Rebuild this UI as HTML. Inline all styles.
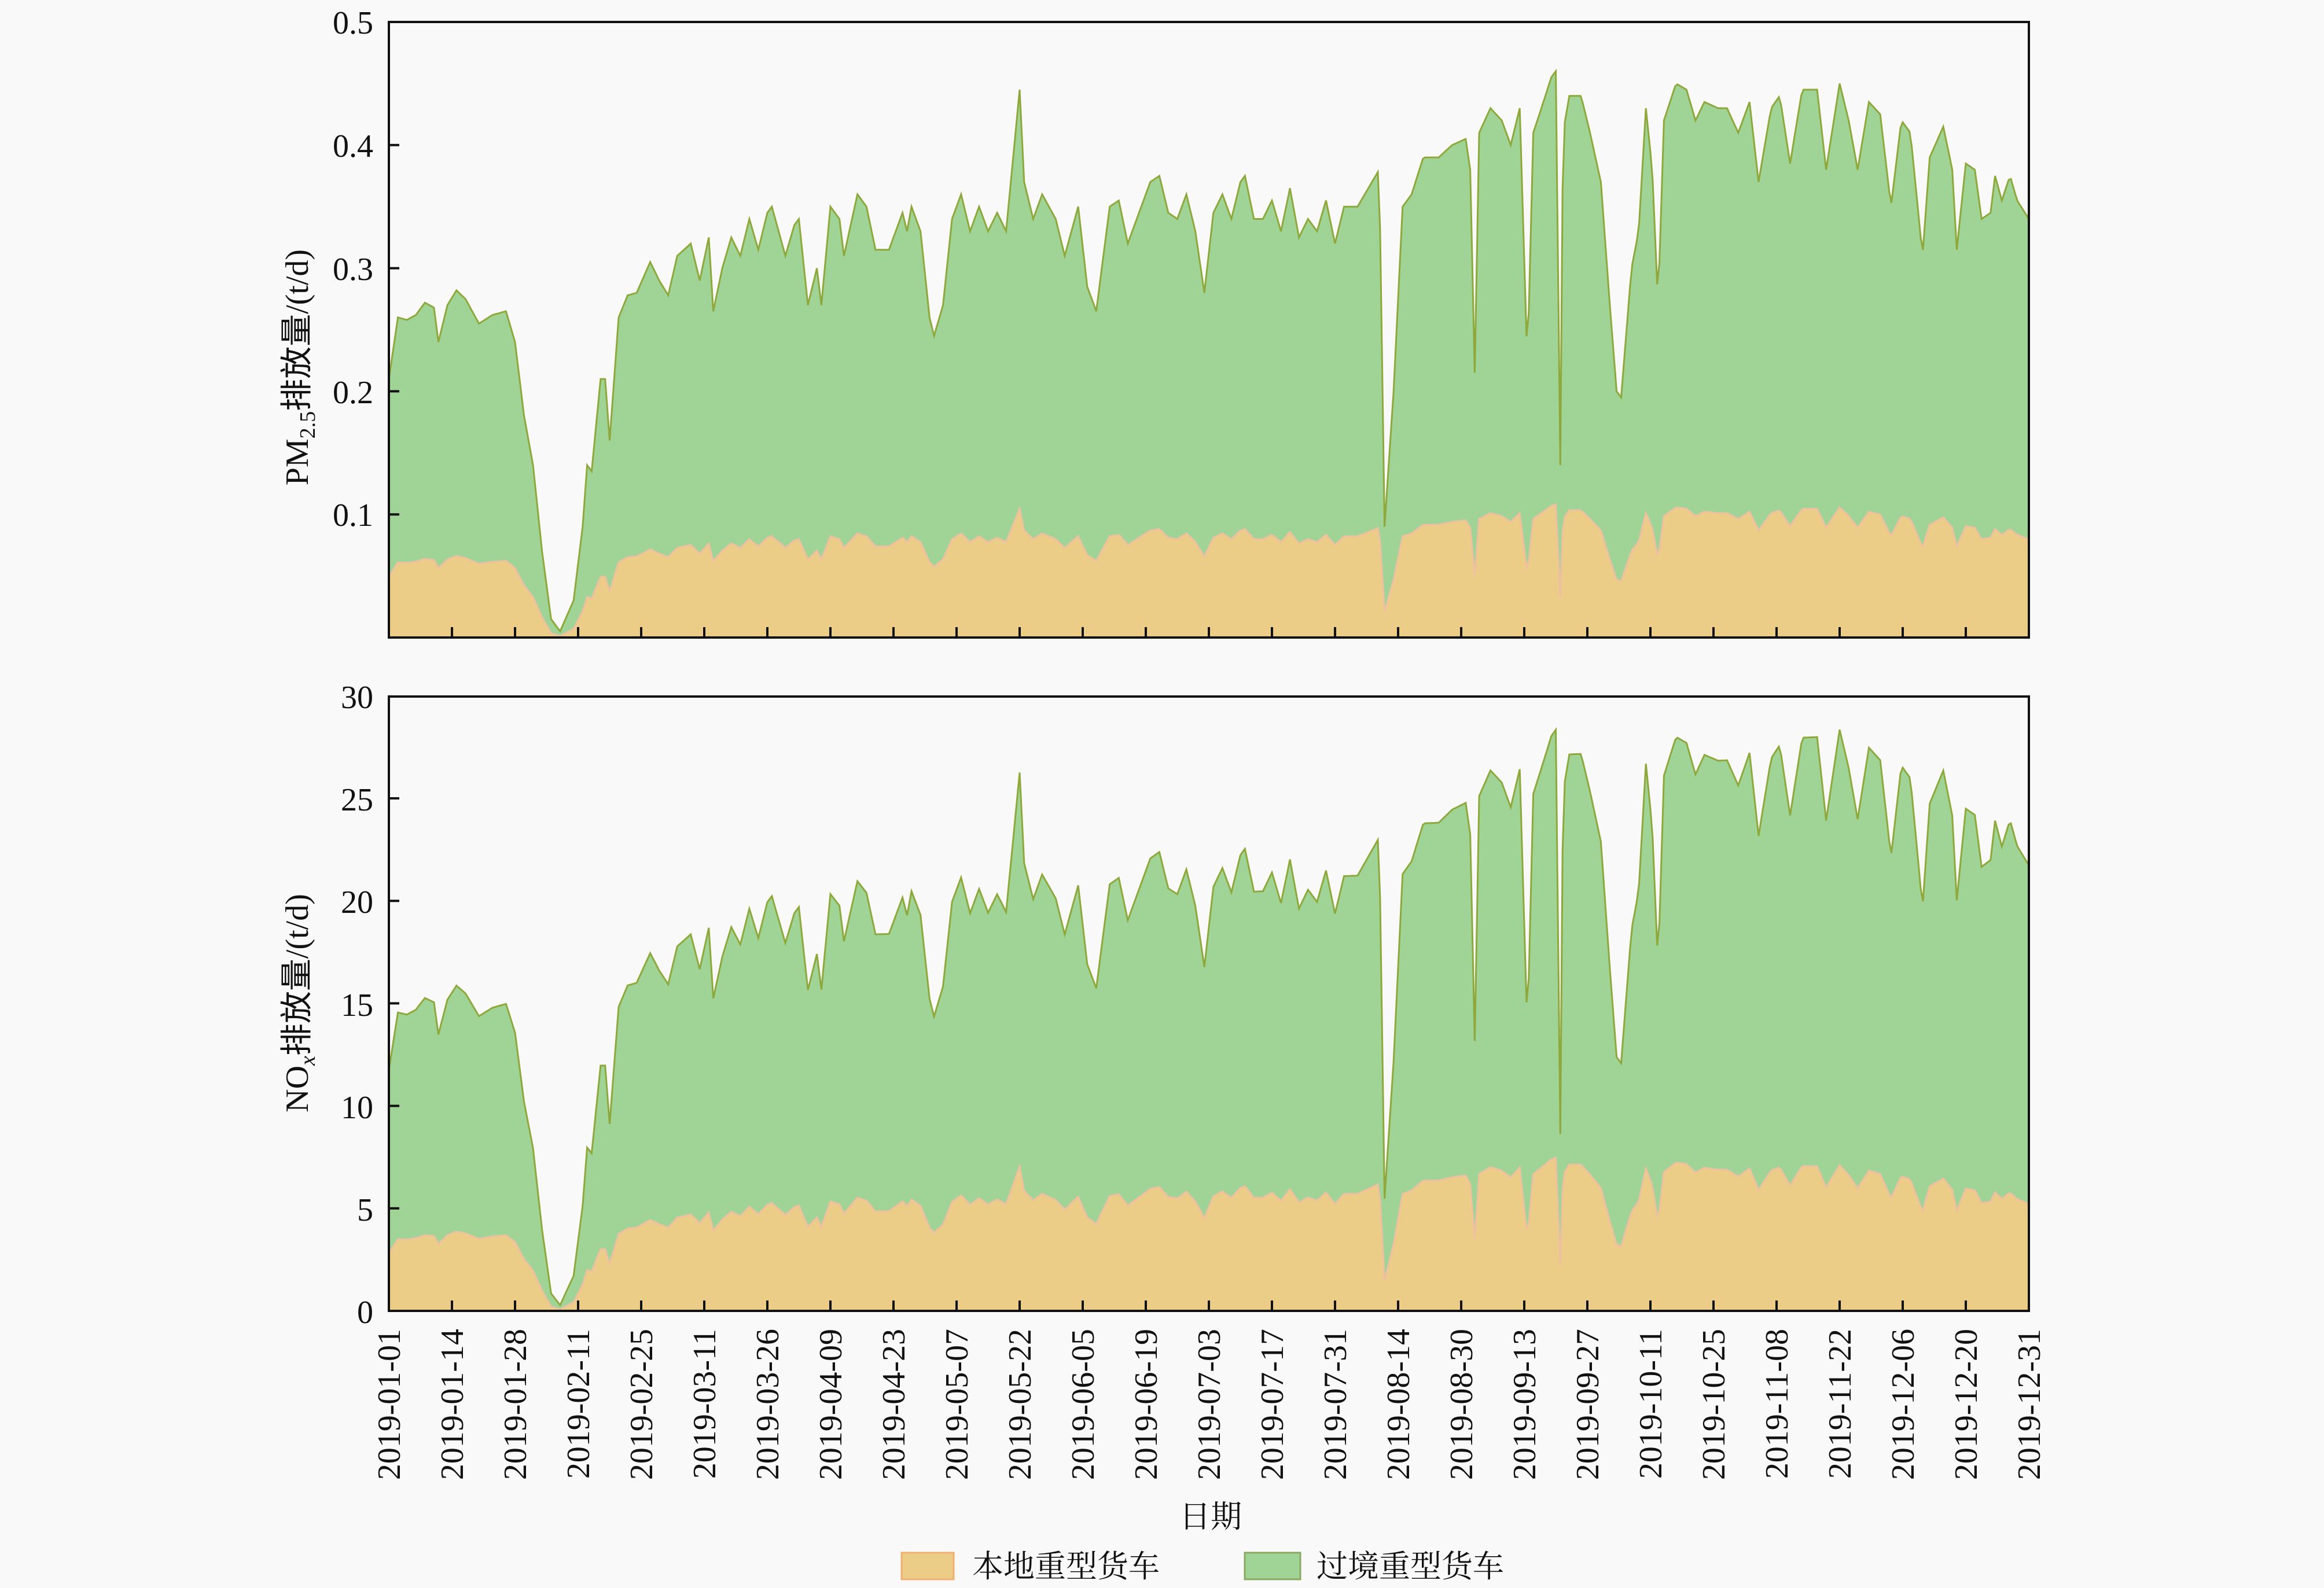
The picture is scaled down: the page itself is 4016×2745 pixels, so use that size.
<!DOCTYPE html>
<html><head><meta charset="utf-8"><style>
html,body{margin:0;padding:0;background:#f9f9f9;}
svg{display:block;}
text{font-family:"Liberation Serif","Noto Serif CJK SC",serif;fill:#111;}
</style></head><body>
<svg id="s" width="4016" height="2745" viewBox="0 0 4016 2745" xmlns="http://www.w3.org/2000/svg">
<rect width="4016" height="2745" fill="#f9f9f9"/>
<g id="plots"></g>
<g font-size="56">
<text x="645" y="58" text-anchor="end">0.5</text>
<text x="645" y="271" text-anchor="end">0.4</text>
<text x="645" y="484" text-anchor="end">0.3</text>
<text x="645" y="697" text-anchor="end">0.2</text>
<text x="645" y="909" text-anchor="end">0.1</text>
<text x="645" y="1224" text-anchor="end">30</text>
<text x="645" y="1401" text-anchor="end">25</text>
<text x="645" y="1578" text-anchor="end">20</text>
<text x="645" y="1756" text-anchor="end">15</text>
<text x="645" y="1933" text-anchor="end">10</text>
<text x="645" y="2110" text-anchor="end">5</text>
<text x="645" y="2287" text-anchor="end">0</text>
</g>
<text transform="translate(532,635) rotate(-90)" font-size="56" text-anchor="middle">PM<tspan font-size="38" dy="12">2.5</tspan><tspan dy="-12" font-family="Noto Sans CJK SC,sans-serif">排放量</tspan>/(t/d)</text>
<text transform="translate(532,1734) rotate(-90)" font-size="56" text-anchor="middle">NO<tspan font-size="38" dy="12" font-style="italic">x</tspan><tspan dy="-12" font-family="Noto Sans CJK SC,sans-serif">排放量</tspan>/(t/d)</text>
<g id="xl" font-size="56"></g>
<text x="2092" y="2640" font-size="54" text-anchor="middle" font-family="Noto Sans CJK SC,sans-serif">日期</text>
<rect x="1558" y="2684" width="90" height="46" fill="#eccd87" stroke="#f0b070" stroke-width="3"/>
<text x="1680" y="2726" font-size="54" font-family="Noto Sans CJK SC,sans-serif">本地重型货车</text>
<rect x="2151" y="2684" width="96" height="46" fill="#9fd496" stroke="#8aa860" stroke-width="3"/>
<text x="2275" y="2726" font-size="54" font-family="Noto Sans CJK SC,sans-serif">过境重型货车</text>
</svg>
<script>
var K=[[0,0.21],[2,0.26],[4,0.258],[6,0.262],[8,0.272],[10,0.268],[11,0.24],[13,0.27],[15,0.282],[17,0.275],[20,0.255],[23,0.262],[26,0.265],[28,0.24],[30,0.18],[32,0.14],[34,0.07],[36,0.015],[38,0.005],[41,0.03],[43,0.09],[44,0.14],[45,0.135],[47,0.21],[48,0.21],[49,0.16],[51,0.26],[53,0.278],[55,0.28],[58,0.305],[60,0.29],[62,0.278],[64,0.31],[67,0.32],[69,0.29],[71,0.325],[72,0.265],[74,0.30],[76,0.325],[78,0.31],[80,0.34],[82,0.315],[84,0.345],[85,0.35],[88,0.31],[90,0.335],[91,0.34],[93,0.27],[95,0.30],[96,0.27],[98,0.35],[100,0.34],[101,0.31],[104,0.36],[106,0.35],[108,0.315],[111,0.315],[112,0.325],[114,0.345],[115,0.33],[116,0.35],[118,0.33],[120,0.26],[121,0.245],[123,0.27],[125,0.34],[127,0.36],[129,0.33],[131,0.35],[133,0.33],[135,0.345],[137,0.33],[140,0.445],[141,0.37],[143,0.34],[145,0.36],[148,0.34],[150,0.31],[153,0.35],[155,0.285],[157,0.265],[160,0.35],[162,0.355],[164,0.32],[166,0.34],[169,0.37],[171,0.375],[173,0.345],[175,0.34],[177,0.36],[179,0.33],[181,0.28],[183,0.345],[185,0.36],[187,0.34],[189,0.37],[190,0.375],[192,0.34],[194,0.34],[196,0.355],[198,0.33],[200,0.365],[202,0.325],[204,0.34],[206,0.33],[208,0.355],[210,0.32],[212,0.35],[215,0.35],[219.8,0.38],[221,0.09],[223,0.2],[225,0.35],[227,0.36],[229.6,0.39],[233,0.39],[236,0.4],[239,0.405],[240,0.38],[241,0.215],[242,0.41],[244.5,0.43],[247,0.42],[249,0.40],[251,0.43],[252.7,0.22],[254,0.41],[256.7,0.44],[258,0.455],[259,0.46],[260,0.14],[260.6,0.41],[262,0.44],[264.6,0.44],[266.6,0.41],[269,0.37],[271,0.27],[272.5,0.2],[273.5,0.195],[275.8,0.3],[277.4,0.33],[279,0.43],[280.4,0.38],[281.7,0.27],[283,0.42],[285.7,0.45],[288,0.445],[290,0.42],[292,0.435],[295,0.43],[297,0.43],[299.5,0.41],[302,0.435],[304,0.37],[306.8,0.43],[308.7,0.44],[311,0.385],[313.7,0.445],[316,0.445],[317,0.445],[319,0.38],[322,0.45],[324,0.42],[326,0.38],[328.5,0.435],[331,0.425],[333.4,0.35],[335.7,0.42],[337.7,0.41],[340.4,0.31],[342,0.39],[345,0.415],[347,0.38],[348,0.315],[350,0.385],[352,0.38],[353.5,0.34],[355.5,0.345],[356.5,0.375],[358,0.355],[359.8,0.375],[361.4,0.355],[364,0.34]];
function v(d){for(var i=0;i<K.length-1;i++){if(d>=K[i][0]&&d<=K[i+1][0]){var t=(d-K[i][0])/(K[i+1][0]-K[i][0]);return K[i][1]+t*(K[i+1][1]-K[i][1]);}}return K[K.length-1][1];}
var X0=672,X1=3506,sx=(X1-X0)/364,H='';
function plot(top,bot,vmax,scale,locr){
 var h=bot-top,tp='',lp='';
 for(var d=0;d<=364;d+=0.5){var p=v(d),t=p*scale(d),l=t*locr(d);var x=(X0+d*sx).toFixed(1);
  tp+=(d?'L':'M')+x+','+(bot-t/vmax*h).toFixed(1);lp+=(d?'L':'M')+x+','+(bot-l/vmax*h).toFixed(1);}
 H+='<path d="'+tp+'L'+X1+','+bot+'L'+X0+','+bot+'Z" fill="#9fd496"/>';
 H+='<path d="'+tp+'" fill="none" stroke="#8ea83c" stroke-width="3"/>';
 H+='<path d="'+lp+'L'+X1+','+bot+'L'+X0+','+bot+'Z" fill="#eccd87"/>';
 H+='<path d="'+lp+'" fill="none" stroke="#efc0a0" stroke-width="3"/>';
 for(var i=0;i<=26;i++){var x=X0+i*14*sx;H+='<line x1="'+x+'" y1="'+bot+'" x2="'+x+'" y2="'+(bot-18)+'" stroke="#111" stroke-width="4"/>';}
 H+='<rect x="'+X0+'" y="'+top+'" width="'+(X1-X0)+'" height="'+h+'" fill="none" stroke="#111" stroke-width="4"/>';
}
plot(38,1102,0.5,function(d){return 1},function(d){return 0.235});
for(var i=1;i<=4;i++){var y=1102-i*212.8;H+='<line x1="672" y1="'+y+'" x2="690" y2="'+y+'" stroke="#111" stroke-width="4"/>';}
plot(1204,2266,30,function(d){return 56+8*d/364},function(d){return 0.24+0.03*Math.sin(Math.PI*d/364)});
for(var i=1;i<=5;i++){var y=2266-i*177.2;H+='<line x1="672" y1="'+y+'" x2="690" y2="'+y+'" stroke="#111" stroke-width="4"/>';}
document.getElementById('plots').innerHTML=H;
var L=['01-01','01-14','01-28','02-11','02-25','03-11','03-26','04-09','04-23','05-07','05-22','06-05','06-19','07-03','07-17','07-31','08-14','08-30','09-13','09-27','10-11','10-25','11-08','11-22','12-06','12-20','12-31'],G='';
for(var i=0;i<27;i++){var x=X0+i*14*sx;G+='<text transform="translate('+(x+19)+',2297) rotate(-90)" text-anchor="end">2019-'+L[i]+'</text>';}
document.getElementById('xl').innerHTML=G;
</script>
</body></html>
